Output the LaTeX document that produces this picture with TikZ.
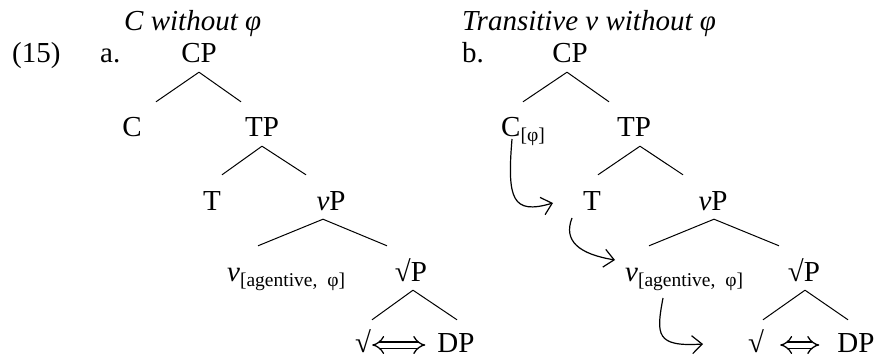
\documentclass[tikz,border=0pt]{standalone}
\usepackage{fontspec}
\setmainfont{Liberation Serif}
\usetikzlibrary{arrows.meta}
\newcommand{\sbs}[1]{\raisebox{-5pt}{\fontsize{19.5}{21}\selectfont #1}}

\begin{document}
\begin{tikzpicture}[x=1pt, y=-1pt,
    every node/.style={font=\fontsize{29}{33}\selectfont, inner sep=0pt},
    cat/.style={anchor=base, text height=35pt, text depth=9pt},
    leaf/.style={cat, text height=32pt, text depth=2pt},
    txt/.style={anchor=base west},
    branch/.style={line width=1pt},
    move/.style={line width=1.2pt, -{Straight Barb[length=10pt,width=18pt]}},
    iff/.style={double, double distance=5pt, line width=1.3pt, {Implies[scale=1.7]}-{Implies[scale=1.7]}}]
  \useasboundingbox (0,0) rectangle (877,358);

  % (a) C without phi
  \node[txt] (ttlA) at (124,31) {\textit{C without φ}};
  \node[txt] (ex) at (12,63) {(15)};
  \node[txt] (lblA) at (100,63) {a.};
  \node[cat] (cpA) at (199,63) {CP};
  \node[cat] (cA) at (132,137) {C};
  \node[cat] (tpA) at (262,137) {TP};
  \node[cat] (tA) at (212,210) {T};
  \node[cat] (vpA) at (331,210) {\textit{v}P};
  \node[cat, anchor=base west] (vA) at (227,281) {\textit{v}\sbs{[agentive,\ \ φ]}};
  \node[cat] (rpA) at (411,281) {√P};
  \node[leaf] (rtA) at (363,352) {√};
  \node[leaf] (dpA) at (456,352) {DP};

  \draw[branch] (cpA.south) -- ([xshift=24pt]cA.north);
  \draw[branch] (cpA.south) -- ([xshift=-21pt]tpA.north);
  \draw[branch] (tpA.south) -- ([xshift=10pt]tA.north);
  \draw[branch] (tpA.south) -- ([xshift=-25pt]vpA.north);
  \draw[branch] ([xshift=-8pt]vpA.south) -- ([xshift=31pt]vA.north west);
  \draw[branch] ([xshift=-8pt]vpA.south) -- ([xshift=-24pt]rpA.north);
  \draw[branch] ([xshift=2pt]rpA.south) -- ([xshift=9pt]rtA.north);
  \draw[branch] ([xshift=2pt]rpA.south) -- ([xshift=1pt]dpA.north);
  \draw[iff, shorten <=1pt, shorten >=12pt] ([yshift=-8pt]rtA.east) -- ([yshift=-8pt]dpA.west);

  % (b) transitive v without phi
  \node[txt] (ttlB) at (462,31) {\textit{Transitive v without φ}};
  \node[txt] (lblB) at (462,63) {b.};
  \node[cat] (cpB) at (570,63) {CP};
  \node[cat, anchor=base west] (cB) at (501,137) {C\sbs{[φ]}};
  \node[cat] (tpB) at (634,137) {TP};
  \node[cat] (tB) at (592,210) {T};
  \node[cat] (vpB) at (713,210) {\textit{v}P};
  \node[cat, anchor=base west] (vB) at (625,281) {\textit{v}\sbs{[agentive,\ \ φ]}};
  \node[cat] (rpB) at (804,281) {√P};
  \node[leaf] (rtB) at (756,352) {√};
  \node[leaf] (dpB) at (856,352) {DP};

  \draw[branch] ([xshift=-3pt]cpB.south) -- ([xshift=22pt]cB.north west);
  \draw[branch] ([xshift=-3pt]cpB.south) -- ([xshift=-25pt]tpB.north);
  \draw[branch] ([xshift=6pt]tpB.south) -- ([xshift=6pt]tB.north);
  \draw[branch] ([xshift=6pt]tpB.south) -- ([xshift=-30pt]vpB.north);
  \draw[branch] ([xshift=1pt]vpB.south) -- ([xshift=24pt]vB.north west);
  \draw[branch] ([xshift=1pt]vpB.south) -- ([xshift=-25pt]rpB.north);
  \draw[branch] ([xshift=1pt]rpB.south) -- ([xshift=7pt]rtB.north);
  \draw[branch] ([xshift=1pt]rpB.south) -- ([xshift=-8pt]dpB.north);
  \draw[iff, shorten <=16pt, shorten >=18pt] ([yshift=-8pt]rtB.east) -- ([yshift=-8pt]dpB.west);

  % movement arrows
  \draw[move] ([shift={(11,2)}]cB.base west) .. controls +(-5,60) and +(-41,12) .. ([shift={(-39,-7)}]tB.base);
  \draw[move] ([shift={(-20,8)}]tB.base) .. controls +(-9,23) and +(-36,-6) .. ([shift={(-10,-21)}]vB.base west);
  \draw[move] ([shift={(38,17)}]vB.base west) .. controls +(-7,37) and +(-47,3) .. ([shift={(-53,-8)}]rtB.base);
\end{tikzpicture}
\end{document}
